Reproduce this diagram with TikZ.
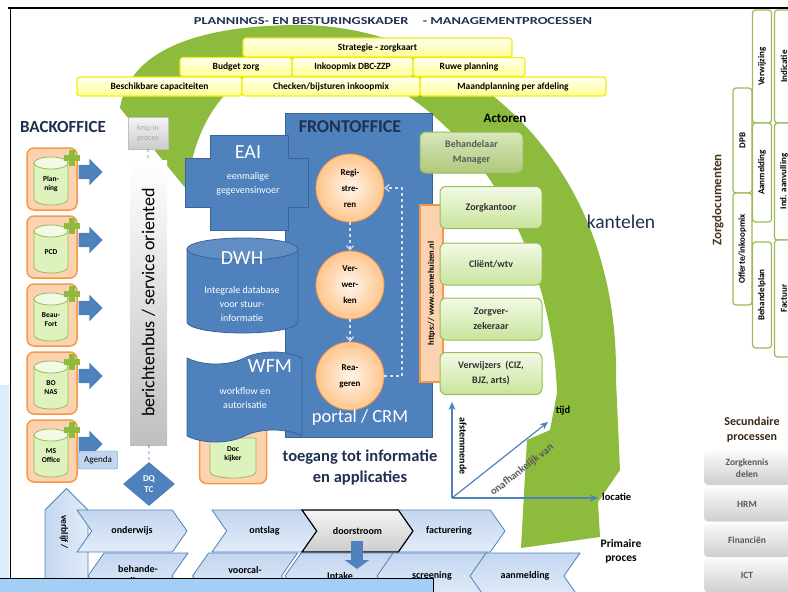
\documentclass[tikz,border=0pt]{standalone}
\usepackage{graphicx}
\usepackage{fontspec}
\setmainfont{Carlito}
\usetikzlibrary{shapes.geometric,shapes.symbols,shapes.arrows,arrows.meta,positioning}

\definecolor{boogroen}{HTML}{8CBB3E}
\definecolor{geelrand}{HTML}{F2EC1A}
\definecolor{kantoorblauw}{HTML}{4F81BD}
\definecolor{randblauw}{HTML}{3B6496}
\definecolor{oranjerand}{HTML}{F79646}
\definecolor{oranjevul}{HTML}{FBD3B0}
\definecolor{dbgroen}{HTML}{DDF2BC}
\definecolor{dbrand}{HTML}{9BBB59}
\definecolor{actortop}{HTML}{F3FAE6}
\definecolor{actorbodem}{HTML}{C8E49C}
\definecolor{chevtop}{HTML}{C3D6F0}
\definecolor{chevbodem}{HTML}{E3ECF8}
\definecolor{kopblauw}{HTML}{1F3050}
\definecolor{bandblauw}{HTML}{A3CEF5}
\definecolor{stripblauw}{HTML}{DCEEFB}

\newcommand{\grootte}[2]{\fontsize{#1}{#2}\selectfont}

\tikzset{
  geelvak/.style={draw=geelrand, line width=1.2pt, rounded corners=3pt,
    top color=yellow!6, bottom color=yellow!42, minimum height=19pt,
    font=\grootte{9.5}{10}\bfseries},
  bovak/.style={draw=oranjerand, line width=1.5pt, rounded corners=7pt,
    fill=oranjevul, minimum width=50pt, minimum height=62pt},
  vat/.style={fill=dbgroen, draw=dbrand, line width=0.8pt},
  vatdeksel/.style={fill=dbgroen!40!white, draw=dbrand, line width=0.8pt},
  dbtekst/.style={align=center, font=\grootte{7.5}{9}\bfseries},
  pijl/.style={single arrow, fill=kantoorblauw, inner xsep=0pt, inner ysep=7pt,
    minimum height=24pt, single arrow head extend=6pt},
  plusteken/.style={draw=boogroen, line width=6pt},
  blauwvlak/.style={fill=kantoorblauw, draw=randblauw, line width=0.8pt},
  witkop/.style={text=white, font=\grootte{20}{21}},
  wittekst/.style={text=white, align=center, font=\grootte{10}{14}},
  proces/.style={circle, draw=oranjerand, line width=0.8pt, inner color=orange!8,
    outer color=orange!45, minimum size=68pt, align=center,
    font=\grootte{9}{16}\bfseries},
  stroom/.style={draw=white!75!kantoorblauw, dashed, line width=1.2pt,
    -{Straight Barb[length=4pt,width=7pt]}},
  actor/.style={draw=dbrand, line width=1pt, rounded corners=6pt, top color=actortop,
    bottom color=actorbodem, minimum width=102pt, minimum height=42pt, align=center,
    font=\grootte{10}{15}\bfseries, text=black!80},
  aspijl/.style={draw=kantoorblauw, line width=1.2pt, -{Stealth[length=8pt,width=7pt]}},
  chev/.style={signal, signal to=east, signal from=west, signal pointer angle=110,
    draw=kantoorblauw, line width=0.8pt, top color=chevtop, bottom color=chevbodem,
    minimum height=42pt, font=\grootte{10}{12}\bfseries, align=center},
  terugchev/.style={chev, signal to=west, signal from=east, minimum height=46pt},
  docvak/.style={draw=dbrand, line width=1.2pt, rounded corners=3pt, fill=white,
    minimum height=19pt, rotate=90, font=\grootte{9}{10}\bfseries},
  secvak/.style={rounded corners=4pt, top color=gray!4, bottom color=gray!38,
    minimum width=86pt, minimum height=34pt, align=center,
    font=\grootte{9.5}{12}\bfseries, text=black!65},
  label/.style={font=\grootte{10.5}{11}\bfseries}
}

\begin{document}
\begin{tikzpicture}[x=1pt, y=-1pt, every node/.append style={inner sep=0pt}]
  \useasboundingbox (0,0) rectangle (788,592);
  \clip (0,0) rectangle (788,592);

  % kader
  \fill[stripblauw] (0,385) rectangle (9,578);
  \draw[line width=1.5pt] (8,8) -- (788,8);
  \draw[line width=1pt] (10,8) -- (10,578);

  % kantelpijl
  \fill[boogroen] (120,108) .. controls (130,45) and (210,25) .. (300,25)
    .. controls (440,25) and (620,140) .. (616,380)
    -- (620,470) -- (598,502) -- (600,537) -- (521,548) -- (527,440) -- (550,430) -- (557,393)
    .. controls (550,200) and (420,60) .. (300,60)
    .. controls (240,62) and (195,110) .. (187,190) -- cycle;

  % managementprocessen
  \node[text=kopblauw] (titel) at (393,21)
    {\resizebox{398pt}{7pt}{\bfseries PLANNINGS- EN BESTURINGSKADER\quad - MANAGEMENTPROCESSEN}};
  \node[geelvak, minimum width=269pt] (strategie) at (377.5,47.5) {Strategie - zorgkaart};
  \node[geelvak, minimum width=112pt] (budget) at (236,67) {Budget zorg};
  \node[geelvak, minimum width=121pt] (inkoop) at (352.5,67) {Inkoopmix DBC-ZZP};
  \node[geelvak, minimum width=112pt] (ruwe) at (469,67) {Ruwe planning};
  \node[geelvak, minimum width=165pt] (capaciteit) at (159.5,86.5) {Beschikbare capaciteiten};
  \node[geelvak, minimum width=178pt] (bijsturen) at (331,86.5) {Checken/bijsturen inkoopmix};
  \node[geelvak, minimum width=186pt] (maand) at (513,86.5) {Maandplanning per afdeling};

  % backoffice
  \node[font=\grootte{17}{18}\bfseries, text=kopblauw] (backoffice) at (63,127) {BACKOFFICE};
  \foreach \i/\naam in {0/{Plan-\\ning},1/PCD,2/{Beau-\\Fort},3/{BO\\NAS},4/{MS\\Office}}{
    \node[bovak] (bo\i) at (52,179+68*\i) {};
    \filldraw[vat] (34,163+68*\i) -- (34,199+68*\i)
      arc[start angle=180, end angle=0, x radius=17, y radius=6] -- (68,163+68*\i) -- cycle;
    \filldraw[vatdeksel] (51,163+68*\i) ellipse [x radius=17, y radius=6];
    \node[dbtekst] (db\i) at (51,184+68*\i) {\naam};
    \draw[plusteken] (64,158+68*\i) -- (80,158+68*\i) (72,150+68*\i) -- (72,166+68*\i);
    \node[pijl] (pijl\i) at (87,172+68*\i) {};
  }
  \node[draw=kantoorblauw, fill=chevtop, rounded corners=2pt, minimum width=39pt,
    minimum height=18pt, font=\grootte{9}{10}] (agenda) at (98,460) {Agenda};

  \node[draw=gray!50, top color=gray!8, bottom color=gray!40, minimum width=40pt,
    minimum height=32pt, align=center, font=\grootte{8}{10}, text=gray!70] (knip) at (148,133) {knip in\\proces};
  \node[rotate=90, top color=white, bottom color=gray!50, minimum width=285pt,
    minimum height=37pt, font=\grootte{18}{19}] (bus) at (148.5,302.5) {berichtenbus / service oriented};
  \node[diamond, fill=kantoorblauw, minimum width=52pt, minimum height=44pt, align=center,
    text=white, font=\grootte{9}{11}\bfseries] (dq) at (149,484) {DQ\\TC};
  \draw[dashed, kantoorblauw, line width=0.8pt] (knip) -- (bus);
  \draw[dashed, kantoorblauw, line width=0.8pt] (bus) -- (dq);

  % frontoffice
  \node[blauwvlak, minimum width=147pt, minimum height=324pt] (front) at (358.5,275) {};
  \node[font=\grootte{18}{19}\bfseries, text=kopblauw] (fronttitel) at (350,127) {FRONTOFFICE};
  \filldraw[blauwvlak] (210,135) -- (288,135) -- (288,158) -- (308,158) -- (308,207)
    -- (288,207) -- (288,230) -- (210,230) -- (210,207) -- (185,207) -- (185,158)
    -- (210,158) -- cycle;
  \node[witkop] (eai) at (248,152) {EAI};
  \node[wittekst] (eaitekst) at (248,184) {eenmalige\\gegevensinvoer};
  \filldraw[blauwvlak] (187,249) -- (187,322)
    arc[start angle=180, end angle=0, x radius=55.5, y radius=11] -- (298,249) -- cycle;
  \filldraw[blauwvlak, fill=kantoorblauw!90!white] (242.5,249) ellipse [x radius=55.5, y radius=11];
  \node[witkop] (dwh) at (242,258) {DWH};
  \node[wittekst] (dwhtekst) at (242,304) {Integrale database\\voor stuur-\\informatie};
  \node[bovak, minimum width=67pt, minimum height=63pt] (dockijker) at (233,452) {};
  \filldraw[vat] (210,438) -- (210,472)
    arc[start angle=180, end angle=0, x radius=23, y radius=6] -- (256,438) -- cycle;
  \node[dbtekst] (docdb) at (233,454) {Doc\\kijker};
  \node[tape, blauwvlak, tape bend top=in and out, tape bend bottom=in and out,
    tape bend height=12pt, minimum width=115pt, minimum height=90pt] (wfm) at (244.5,397) {};
  \node[witkop] (wfmkop) at (270,366) {WFM};
  \node[wittekst] (wfmtekst) at (245,398) {workflow en\\autorisatie};

  \node[proces] (registreren) at (350,188) {Regi-\\stre-\\ren};
  \node[proces] (verwerken) at (350,285) {Ver-\\wer-\\ken};
  \node[proces] (reageren) at (350,376) {Rea-\\geren};
  \draw[stroom] (registreren) -- (verwerken);
  \draw[stroom] (verwerken) -- (reageren);
  \coordinate (terug) at (402,188);
  \draw[stroom] (reageren.east) -| (terug) -- (registreren.east);
  \node[text=white, font=\grootte{18.5}{19}] (portal) at (360,418) {portal / CRM};
  \node[align=center, font=\grootte{16.5}{21}\bfseries, text=kopblauw] (toegang) at (360,467)
    {toegang tot informatie\\en applicaties};

  % actoren
  \node[rotate=90, draw=oranjerand, line width=1.2pt, fill=oranjevul, minimum width=177pt,
    minimum height=23pt, font=\grootte{8.5}{9}\bfseries] (url) at (431.5,293.5) {https:// www.zonnehuizen.nl};
  \node[font=\grootte{13}{14}\bfseries] (actoren) at (505,118) {Actoren};
  \node[actor, minimum width=103pt, minimum height=41pt, top color=actortop!70!dbrand,
    bottom color=dbrand!80, text=black!65] (behandelaar) at (471.5,152.5) {Behandelaar\\Manager};
  \node[actor] (zorgkantoor) at (491,207.5) {Zorgkantoor};
  \node[actor] (client) at (491,264) {Cliënt/wtv};
  \node[actor] (zorgverzekeraar) at (491,319) {Zorgver-\\zekeraar};
  \node[actor] (verwijzers) at (491,373.5) {Verwijzers \ (CIZ,\\BJZ, arts)};
  \node[font=\grootte{19.5}{20}, text=kopblauw] (kantelen) at (621,222) {kantelen};

  % assen
  \coordinate (oorsprong) at (452,498);
  \coordinate (afstemas) at (452,402);
  \coordinate (locatieas) at (598,498);
  \coordinate (tijdas) at (548,422);
  \draw[aspijl] (oorsprong) -- (afstemas);
  \draw[aspijl] (oorsprong) -- (locatieas);
  \draw[aspijl] (oorsprong) -- (tijdas);
  \node[label] (tijd) at (563,411) {tijd};
  \node[label, anchor=west] (locatie) at (602,497) {locatie};
  \node[label, rotate=38, text=gray!70!black] (onafh) at (522,470) {onafhankelijk van};
  \node[label, rotate=-90, font=\grootte{10}{11}\bfseries] (afstem) at (463,446) {afstemmende};

  % primaire processen
  \node[signal, signal to=north, signal from=nowhere, draw=kantoorblauw, line width=0.8pt,
    left color=chevtop, right color=chevbodem, minimum width=43pt, minimum height=110pt] (verblijf) at (66.5,565) {};
  \node[rotate=-90, font=\grootte{9.5}{10}\bfseries] (verblijftekst) at (64,532) {verblijf /};
  \node[chev, minimum width=110pt] (onderwijs) at (132,531) {onderwijs};
  \node[chev, minimum width=105pt] (ontslag) at (264.5,531) {ontslag};
  \node[chev, minimum width=112pt] (facturering) at (449,531) {facturering};
  \node[chev, minimum width=111pt, draw=black, line width=1.2pt, top color=gray!8,
    bottom color=gray!40] (doorstroom) at (357.5,531) {doorstroom};
  \node[terugchev, minimum width=100pt] (behandeling) at (138,576) {behande-\\ling};
  \node[terugchev, minimum width=105pt] (voorcalculatie) at (245,576) {voorcal-\\culatie};
  \node[terugchev, minimum width=110pt] (intake) at (340,576) {Intake};
  \node[terugchev, minimum width=110pt] (screening) at (432,576) {screening};
  \node[terugchev, minimum width=110pt] (aanmelding) at (525,576) {aanmelding};
  \coordinate (doortop) at (357,541);
  \coordinate (doorvoet) at (357,569);
  \draw[line width=12pt, kantoorblauw, -{Triangle[width=24pt,length=9pt]}] (doortop) -- (doorvoet);
  \node[align=center, font=\grootte{11.5}{14}\bfseries] (primair) at (621,551) {Primaire\\proces};

  % zorgdocumenten
  \node[rotate=90, font=\grootte{13}{14}\bfseries, text=brown!40!black] (zorgdoc) at (718,200) {Zorgdocumenten};
  \node[docvak, minimum width=105pt] (dpb) at (742.5,140.5) {DPB};
  \node[docvak, minimum width=112pt] (offerte) at (742.5,249) {Offerte/inkoopmix};
  \node[docvak, minimum width=113pt] (verwijzing) at (762,66.5) {Verwijzing};
  \node[docvak, minimum width=99pt] (aanmelddoc) at (762,172.5) {Aanmelding};
  \node[docvak, minimum width=106pt] (behandelplan) at (762,295) {Behandelplan};
  \node[docvak, minimum width=113pt] (indicatie) at (784,66.5) {Indicatie};
  \node[docvak, minimum width=117pt] (indaanv) at (784,181.5) {Ind. aanvulling};
  \node[docvak, minimum width=117pt] (factuur) at (784,298.5) {Factuur};

  % secundaire processen
  \node[align=center, font=\grootte{12}{15}\bfseries, text=brown!30!black] (secundair) at (752,430) {Secundaire\\processen};
  \node[secvak] (zorgkennis) at (747,468) {Zorgkennis\\delen};
  \node[secvak] (hrm) at (747,504.5) {HRM};
  \node[secvak] (financien) at (747,540) {Financiën};
  \node[secvak] (ict) at (747,575.5) {ICT};

  % onderrand
  \fill[bandblauw] (0,578) rectangle (433,592);
  \draw[line width=1pt] (0,578) -- (433,578) -- (433,592);
\end{tikzpicture}
\end{document}
